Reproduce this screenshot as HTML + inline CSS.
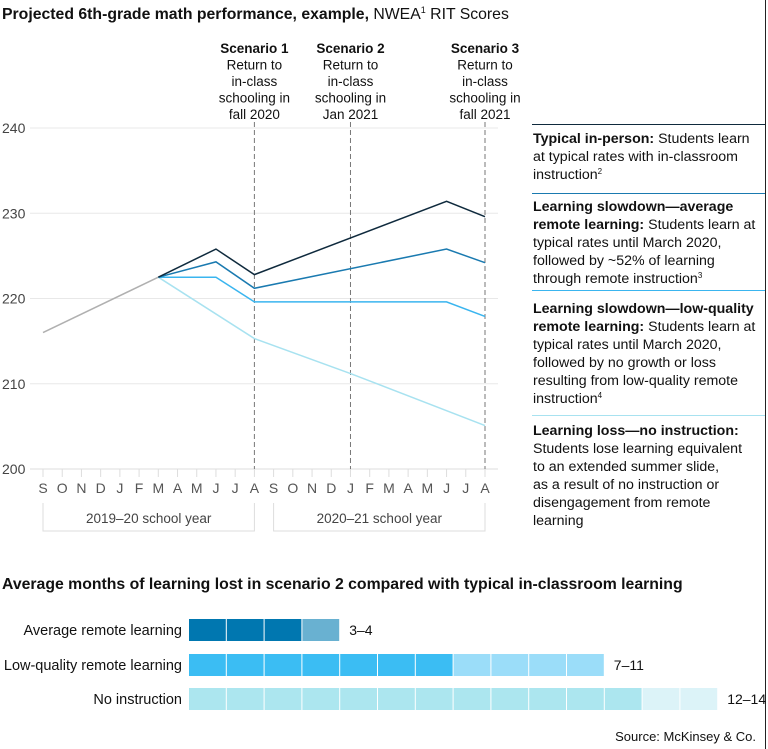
<!DOCTYPE html>
<html><head><meta charset="utf-8"><style>
body{margin:0;background:#fff;}
svg{display:block;font-family:"Liberation Sans",sans-serif;}
</style></head><body>
<svg id="chart" width="768" height="749" viewBox="0 0 768 749">
<line x1="765.5" y1="0" x2="765.5" y2="749" stroke="#222" stroke-width="1"/>
<text x="2" y="19" font-size="15.8" fill="#111"><tspan font-weight="bold">Projected 6th-grade math performance, example,</tspan> NWEA<tspan font-size="9" dy="-6">1</tspan><tspan dy="6"> RIT Scores</tspan></text>
<g id="grid"></g>
<g id="scen"></g>
<g id="lines"></g>
<g id="xaxis"></g>
<g font-size="14.2" fill="#111">
<line x1="532" y1="124.5" x2="765" y2="124.5" stroke="#0f2a3d"/>
<text x="533" y="143"><tspan font-weight="bold">Typical in-person:</tspan> Students learn<tspan x="533" dy="18">at typical rates with in-classroom</tspan><tspan x="533" dy="18">instruction</tspan><tspan font-size="8" dy="-5">2</tspan></text>
<line x1="532" y1="193.5" x2="765" y2="193.5" stroke="#1a7ab0"/>
<text x="533" y="211"><tspan font-weight="bold">Learning slowdown—average</tspan><tspan x="533" dy="18" font-weight="bold">remote learning:</tspan> Students learn at<tspan x="533" dy="18">typical rates until March 2020,</tspan><tspan x="533" dy="18">followed by ~52% of learning</tspan><tspan x="533" dy="18">through remote instruction</tspan><tspan font-size="8" dy="-5">3</tspan></text>
<line x1="532" y1="290.5" x2="765" y2="290.5" stroke="#3ab5ef"/>
<text x="533" y="313"><tspan font-weight="bold">Learning slowdown—low-quality</tspan><tspan x="533" dy="18" font-weight="bold">remote learning:</tspan> Students learn at<tspan x="533" dy="18">typical rates until March 2020,</tspan><tspan x="533" dy="18">followed by no growth or loss</tspan><tspan x="533" dy="18">resulting from low-quality remote</tspan><tspan x="533" dy="18">instruction</tspan><tspan font-size="8" dy="-5">4</tspan></text>
<line x1="532" y1="415.5" x2="765" y2="415.5" stroke="#a8e2f0"/>
<text x="533" y="435"><tspan font-weight="bold">Learning loss—no instruction:</tspan><tspan x="533" dy="18">Students lose learning equivalent</tspan><tspan x="533" dy="18">to an extended summer slide,</tspan><tspan x="533" dy="18">as a result of no instruction or</tspan><tspan x="533" dy="18">disengagement from remote</tspan><tspan x="533" dy="18">learning</tspan></text>
</g>
<text x="2" y="589" font-size="15.8" font-weight="bold" fill="#111">Average months of learning lost in scenario 2 compared with typical in-classroom learning</text>
<g id="bars"></g>
<text x="756" y="741" font-size="13" fill="#111" text-anchor="end">Source: McKinsey &amp; Co.</text>
</svg>
<script>
const months = ["S","O","N","D","J","F","M","A","M","J","J","A","S","O","N","D","J","F","M","A","M","J","J","A"];
const yTicks = [200,210,220,230,240];
const gray = [[0,216.0],[6,222.5]];
const typical = [[6,222.5],[9,225.8],[11,222.8],[21,231.4],[23,229.6]];
const average = [[6,222.5],[9,224.3],[11,221.2],[21,225.8],[23,224.2]];
const lowQuality = [[6,222.5],[9,222.5],[11,219.6],[21,219.6],[23,217.9]];
const noInstruction = [[6,222.5],[11,215.3],[16,211.2],[23,205.1]];
const scenarioIdx = [11,16,23];
const scenarioNames = ["Scenario 1","Scenario 2","Scenario 3"];
const scenarioText = [["Return to","in-class","schooling in","fall 2020"],["Return to","in-class","schooling in","Jan 2021"],["Return to","in-class","schooling in","fall 2021"]];
const barCats = ["Average remote learning","Low-quality remote learning","No instruction"];
const barLow = [3,7,12];
const barHigh = [4,11,14];
const barLabels = ["3–4","7–11","12–14"];

const NS="http://www.w3.org/2000/svg";
function mk(tag,attrs,parent,text){const e=document.createElementNS(NS,tag);for(const k in attrs)e.setAttribute(k,attrs[k]);if(text!=null)e.textContent=text;parent.appendChild(e);return e;}
const X0=43,X1=485;
const x=i=>X0+i*(X1-X0)/(months.length-1);
const y=v=>469-(v-200)*(469-128)/40;

const grid=document.getElementById('grid');
yTicks.forEach(t=>{
 const l=mk('line',{x1:30,x2:498,y1:y(t),y2:y(t),stroke:t===200?'#ddd':'#e8e8e8','stroke-width':1},grid);
 
 
 const tx=mk('text',{x:2,y:y(t)+5,'font-size':14,fill:'#444'},grid,String(t));
 
 
});
const xa=document.getElementById('xaxis');
months.forEach((m,i)=>{
 const tk=mk('line',{x1:x(i),x2:x(i),y1:469,y2:477,stroke:'#ddd'},xa);
 
 
 const t=mk('text',{x:x(i),y:493,'font-size':14,fill:'#555','text-anchor':'middle'},xa,m);
 
 
});
[[0,11,"2019–20 school year"],[12,23,"2020–21 school year"]].forEach((s,k)=>{
 const p=mk('path',{d:`M${x(s[0])},503 V531 H${x(s[1])} V503`,fill:'none',stroke:'#ddd'},xa);
 
 
 const t=mk('text',{x:(x(s[0])+x(s[1]))/2,y:523,'font-size':13.5,fill:'#444','text-anchor':'middle'},xa,s[2]);
 
 
});
const sc=document.getElementById('scen');
scenarioIdx.forEach((i,k)=>{
 const l=mk('line',{x1:x(i),x2:x(i),y1:122,y2:469,stroke:'#777','stroke-dasharray':'5,3'},sc);
 
 
 const t=mk('text',{x:x(i),y:53,'font-size':13.5,fill:'#111','text-anchor':'middle'},sc);
 
 
 mk('tspan',{x:x(i),'font-weight':'bold'},t,scenarioNames[k]);
 scenarioText[k].forEach(s=>mk('tspan',{x:x(i),dy:16.5},t,s));
});
const lg=document.getElementById('lines');
[[gray,'#b0b0b0','history'],[noInstruction,'#a8e2f0','no-instruction'],[lowQuality,'#3ab5ef','low-quality'],[average,'#1a7ab0','average'],[typical,'#0f2a3d','typical']].forEach(s=>{
 const p=mk('polyline',{points:s[0].map(d=>x(d[0])+','+y(d[1])).join(' '),fill:'none',stroke:s[1],'stroke-width':1.5},lg);
 
 
});
const bg=document.getElementById('bars');
const BX=189,CW=37.8,rowY=[619,654,688],BH=22;
const dark=['#0077b0','#3bbdf3','#ace6ef'],light=['#69b1d1','#9bddf9','#dcf3f8'];
barCats.forEach((c,r)=>{
 const t=mk('text',{x:182,y:rowY[r]+16,'font-size':14.5,fill:'#111','text-anchor':'end'},bg,c);
 
 
 for(let j=0;j<barHigh[r];j++){
  const rc=mk('rect',{x:BX+j*CW,y:rowY[r],width:CW-1,height:BH,fill:j<barLow[r]?dark[r]:light[r]},bg);
  
  
 }
 const v=mk('text',{x:BX+barHigh[r]*CW+9,y:rowY[r]+16,'font-size':14,fill:'#111'},bg,barLabels[r]);
 
 
});
</script>
</body></html>
